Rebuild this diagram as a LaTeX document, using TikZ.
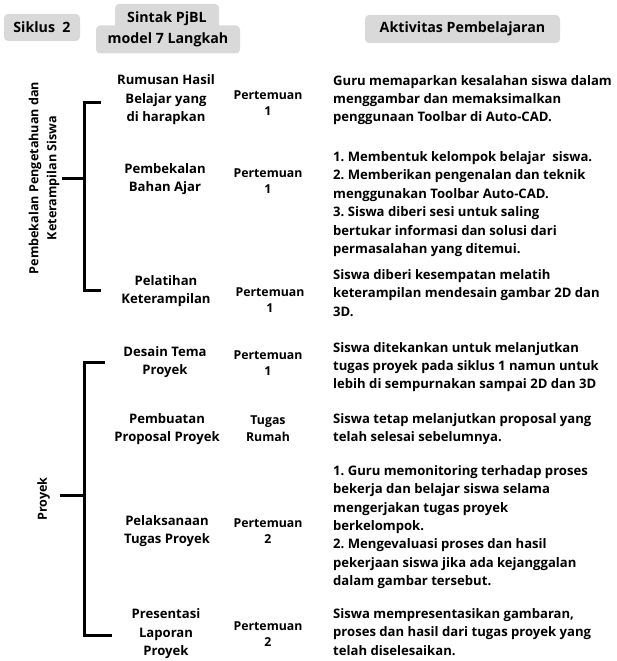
\documentclass[tikz,border=0pt]{standalone}
\usepackage{fontspec}
\setmainfont{Open Sans}[BoldFont={Open Sans Bold}]
\usetikzlibrary{positioning}
\definecolor{boxgray}{HTML}{D9D9D9}
\frenchspacing

\begin{document}
\begin{tikzpicture}[x=1pt,y=-1pt,
  headbox/.style={fill=boxgray,rounded corners=4pt,inner sep=0pt,font=\bfseries\fontsize{14.2}{16}\selectfont},
  sintak/.style={align=center,inner sep=0pt,font=\bfseries\fontsize{13.1}{18.5}\selectfont},
  temu/.style={align=center,inner sep=0pt,font=\bfseries\fontsize{12.3}{16.7}\selectfont},
  aktiv/.style={align=left,anchor=west,inner sep=0pt,font=\bfseries\fontsize{13.1}{18.4}\selectfont},
  fase/.style={align=center,inner sep=0pt,rotate=90,font=\bfseries\fontsize{12.6}{18}\selectfont},
  brace/.style={line width=3pt}
]
\useasboundingbox (0,0) rectangle (616,661);

% judul
\node[headbox,minimum width=76pt,minimum height=27pt] (siklus) at (42,27.5) {Siklus\ \ 2};
\node[headbox,minimum width=104pt,minimum height=30pt] (sintakA) at (167,19) {Sintak PjBL};
\node[headbox,minimum width=144pt,minimum height=28pt] (sintakB) at (168,39.5) {model 7 Langkah};
\node[headbox,minimum width=195pt,minimum height=28pt] (aktivitas) at (462.5,29) {Aktivitas Pembelajaran};

% fase
\node[fase] (fase1) at (44,178) {Pembekalan Pengetahuan dan\\Keterampilan Siswa};
\node[fase] (fase2) at (43.5,499) {Proyek};

% kurung
\coordinate (k1) at (62,178);
\coordinate (t1) at (101,102);
\coordinate (u1) at (101,290);
\draw[brace] (t1) -- ++(-17,0) |- (u1);
\draw[brace] (k1) -- ++(22,0);

\coordinate (k2) at (60,495);
\coordinate (t2) at (105,362);
\coordinate (u2) at (112,635);
\draw[brace] (t2) -- ++(-21,0) |- (u2);
\draw[brace] (k2) -- ++(24,0);

% sintak
\node[sintak] (s1) at (166,100) {Rumusan Hasil\\Belajar yang\\di harapkan};
\node[sintak] (s2) at (165,179) {Pembekalan\\Bahan Ajar};
\node[sintak] (s3) at (166,291) {Pelatihan\\Keterampilan};
\node[sintak] (s4) at (165,362) {Desain Tema\\Proyek};
\node[sintak] (s5) at (167,429) {Pembuatan\\Proposal Proyek};
\node[sintak] (s6) at (167,531) {Pelaksanaan\\Tugas Proyek};
\node[sintak] (s7) at (166,634) {Presentasi\\Laporan\\Proyek};

% pertemuan
\node[temu] (p1) at (268,103) {Pertemuan\\1};
\node[temu] (p2) at (268,181) {Pertemuan\\1};
\node[temu] (p3) at (270,300) {Pertemuan\\1};
\node[temu] (p4) at (268,363) {Pertemuan\\1};
\node[temu] (p5) at (268,428.5) {Tugas\\Rumah};
\node[temu] (p6) at (268,531) {Pertemuan\\2};
\node[temu] (p7) at (268,634) {Pertemuan\\2};

% aktivitas
\node[aktiv] (a1) at (333,100) {Guru memaparkan kesalahan siswa dalam\\menggambar dan memaksimalkan\\penggunaan Toolbar di Auto-CAD.};
\node[aktiv] (a2) at (333,204) {1. Membentuk kelompok belajar\ \ siswa.\\2. Memberikan pengenalan dan teknik\\menggunakan Toolbar Auto-CAD.\\3. Siswa diberi sesi untuk saling\\bertukar informasi dan solusi dari\\permasalahan yang ditemui.};
\node[aktiv] (a3) at (333,293) {Siswa diberi kesempatan melatih\\keterampilan mendesain gambar 2D dan\\3D.};
\node[aktiv] (a4) at (333,367) {Siswa ditekankan untuk melanjutkan\\tugas proyek pada siklus 1 namun untuk\\lebih di sempurnakan sampai 2D dan 3D};
\node[aktiv] (a5) at (333,429) {Siswa tetap melanjutkan proposal yang\\telah selesai sebelumnya.};
\node[aktiv] (a6) at (333,527) {1. Guru memonitoring terhadap proses\\bekerja dan belajar siswa selama\\mengerjakan tugas proyek\\berkelompok.\\2. Mengevaluasi proses dan hasil\\pekerjaan siswa jika ada kejanggalan\\dalam gambar tersebut.};
\node[aktiv] (a7) at (333,632) {Siswa mempresentasikan gambaran,\\proses dan hasil dari tugas proyek yang\\telah diselesaikan.};

\end{tikzpicture}
\end{document}
